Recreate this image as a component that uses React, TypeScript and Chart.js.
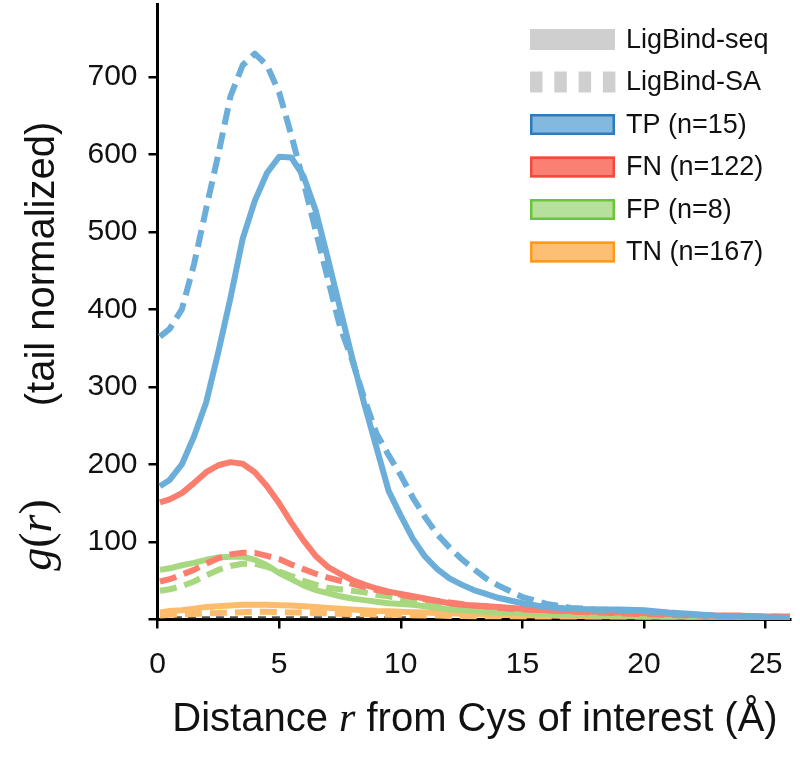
import React, { useEffect, useRef } from 'react';
import { Chart, registerables } from 'chart.js';

Chart.register(...registerables);

// Radial distance from the Cys of interest (Å)
const distance = [
  0.1, 0.5, 1, 1.5, 2, 2.5, 3, 3.5, 4, 4.5, 5, 5.5, 6, 6.5, 7, 7.5, 8, 8.5, 9, 9.5,
  10, 10.5, 11, 11.5, 12, 12.5, 13, 13.5, 14, 15, 16, 17, 18, 19, 20, 21, 22, 23, 24, 25, 26,
];

// g(r), tail normalized — LigBind-seq (solid lines)
const tpSeq = [172, 180, 200, 236, 280, 345, 415, 491, 540, 576, 597, 596, 572, 528, 466, 402, 338, 278, 222, 166, 134, 104, 81, 65, 53, 45, 38, 33, 28, 21, 16, 14, 13, 13, 12, 9, 7, 5, 4, 3, 2];
const fnSeq = [151, 155, 163, 176, 190, 199, 203, 201, 190, 172, 150, 125, 102, 82, 68, 59, 51, 45, 40, 36, 33, 30, 27, 24, 21, 19, 18, 17, 16, 14, 12, 11, 10, 9, 8, 7, 6, 5, 5, 4, 4];
const fpSeq = [64, 66, 70, 73, 77, 80, 81, 81, 77, 70, 60, 52, 44, 38, 34, 30, 27, 25, 23, 21, 20, 19, 17, 15, 13, 12, 11, 10, 9, 8, 7, 6, 5, 5, 4, 4, 3, 3, 3, 2, 2];
const tnSeq = [9, 11, 12, 14, 16, 17, 18, 19, 19, 19, 18.5, 18, 17, 16, 15, 14, 13, 12, 11, 10.5, 10, 9.5, 9, 8.5, 8, 7.5, 7, 6.5, 6, 5.5, 5, 4.5, 4, 4, 3.5, 3, 3, 2.5, 2, 2, 2];

// g(r), tail normalized — LigBind-SA (dashed lines)
const tpSA = [365, 375, 400, 458, 530, 600, 675, 715, 730, 715, 680, 625, 565, 502, 440, 378, 335, 285, 240, 212, 186, 157, 132, 110, 93, 78, 65, 53, 44, 29, 20, 15, 13, 12, 11, 8, 6, 4, 3, 2, 2];
const fnSA = [49, 52, 58, 64, 72, 79, 84, 86, 86, 82, 78, 71, 65, 59, 54, 50, 46, 42, 38, 35, 32, 29, 26, 24, 22, 20, 18, 17, 15, 13, 12, 10, 9, 8, 7, 6, 5, 5, 4, 4, 3];
const fpSA = [37, 39, 43, 49, 57, 64, 69, 72, 72, 68, 62, 56, 50, 45, 41, 39, 37, 35, 32, 30, 27, 25, 22, 20, 18, 16, 15, 13, 12, 10, 9, 8, 7, 6, 5, 5, 4, 4, 3, 3, 2];
const tnSA = [5, 6, 6.5, 7, 8, 8.5, 9, 9.5, 10, 10, 9.5, 9, 9, 8.5, 8, 7.5, 7, 7, 6.5, 6, 6, 5.5, 5, 5, 4.5, 4.5, 4, 4, 4, 3.5, 3, 3, 3, 2.5, 2.5, 2, 2, 2, 2, 1.5, 1.5];

// near-zero reference trace along the baseline
const baseTrace = [3, 3, 3, 3, 3, 3, 3, 3, 3, 3, 3, 3, 3, 3, 3, 3, 3, 3, 3, 3, 3, 3, 3, null, null, null, null, null, null, null, null, null, null, null, null, null, null, null, null, null, null];

// tick values
const xTicks = [0, 5, 10, 15, 20, 25];
const yTicks = [0, 100, 200, 300, 400, 500, 600, 700];

const classLabels = ['TP (n=15)', 'FN (n=122)', 'FP (n=8)', 'TN (n=167)'];
const methodLabels = ['LigBind-seq', 'LigBind-SA'];
const lineColors = ['#6aaed9', '#fa7d6d', '#a7d87f', '#fdbb6c'];
const patchFills = ['#83b9df', '#fa8073', '#b6e09b', '#fdbf74'];
const patchEdges = ['#2a7bbf', '#f24a3d', '#6cc43b', '#fd9a1c'];

const SANS = '"Liberation Sans", Arial, Helvetica, sans-serif';
const SERIF = '"Liberation Serif", "DejaVu Serif", serif';

const toPoints = (ys: (number | null)[]) => distance.map((x, i) => ({ x, y: ys[i] }));

// Axis titles with italic math variables
const titlePlugin = {
  id: 'gofrTitles',
  afterDraw(chart: any) {
    const ctx: CanvasRenderingContext2D = chart.ctx;
    ctx.save();
    ctx.fillStyle = '#111';
    ctx.textBaseline = 'alphabetic';

    // x title
    const xParts: [string, string][] = [
      ['Distance ', `40px ${SANS}`],
      ['r', `italic 42px ${SERIF}`],
      [' from Cys of interest (Å)', `40px ${SANS}`],
    ];
    let total = 0;
    xParts.forEach(([t, f]) => { ctx.font = f; total += ctx.measureText(t).width; });
    let x = 475 - total / 2;
    ctx.textAlign = 'left';
    xParts.forEach(([t, f]) => { ctx.font = f; ctx.fillText(t, x, 731); x += ctx.measureText(t).width; });

    // y title (rotated)
    ctx.save();
    ctx.translate(54, 264);
    ctx.rotate(-Math.PI / 2);
    ctx.font = `40px ${SANS}`;
    ctx.textAlign = 'center';
    ctx.fillText('(tail normalized)', 0, 0);
    ctx.restore();

    const gParts: [string, string][] = [
      ['g', `italic 46px ${SERIF}`],
      ['(', `46px ${SERIF}`],
      ['r', `italic 46px ${SERIF}`],
      [')', `46px ${SERIF}`],
    ];
    let gw = 0;
    gParts.forEach(([t, f]) => { ctx.font = f; gw += ctx.measureText(t).width; });
    ctx.save();
    ctx.translate(51, 535);
    ctx.rotate(-Math.PI / 2);
    ctx.textAlign = 'left';
    let gx = -gw / 2;
    gParts.forEach(([t, f]) => { ctx.font = f; ctx.fillText(t, gx, 0); gx += ctx.measureText(t).width; });
    ctx.restore();

    ctx.restore();
  },
};

// Legend: line-style patches for the two methods, colour patches for the classes
const legendPlugin = {
  id: 'gofrLegend',
  afterDraw(chart: any) {
    const ctx: CanvasRenderingContext2D = chart.ctx;
    const labels = [...methodLabels, ...classLabels];
    const px = 530, pw = 85, ph = 21;
    ctx.save();
    labels.forEach((label, i) => {
      const cy = 39.5 + i * 42.5;
      const top = cy - ph / 2;
      if (i === 0) {
        ctx.fillStyle = '#cfcfcf';
        ctx.fillRect(px, top, pw, ph);
      } else if (i === 1) {
        ctx.fillStyle = '#cfcfcf';
        for (let k = 0; k < 4; k++) ctx.fillRect(px + k * 24.3, top, 12.5, ph);
      } else {
        const c = i - 2;
        ctx.fillStyle = patchFills[c];
        ctx.fillRect(px, top, pw, ph);
        ctx.strokeStyle = patchEdges[c];
        ctx.lineWidth = 2.5;
        ctx.strokeRect(px + 1.25, top + 1.25, pw - 2.5, ph - 2.5);
      }
      ctx.fillStyle = '#111';
      ctx.font = `27px ${SANS}`;
      ctx.textAlign = 'left';
      ctx.textBaseline = 'middle';
      ctx.fillText(label, 626, cy + 1);
    });
    ctx.restore();
  },
};

const noScalePadding = (s: any) => {
  s.paddingTop = 0;
  s.paddingBottom = 0;
  s.paddingLeft = 0;
  s.paddingRight = 0;
};

export default function App() {
  const canvasRef = useRef<HTMLCanvasElement | null>(null);

  useEffect(() => {
    if (!canvasRef.current) return;
    const seq = [tpSeq, fnSeq, fpSeq, tnSeq];
    const sa = [tpSA, fnSA, fpSA, tnSA];
    const datasets: any[] = [];
    classLabels.forEach((label, c) => {
      datasets.push({
        label: `${label} ${methodLabels[0]}`,
        data: toPoints(seq[c]),
        borderColor: lineColors[c],
        borderWidth: 6,
        order: c * 2 + 1,
      });
      datasets.push({
        label: `${label} ${methodLabels[1]}`,
        data: toPoints(sa[c]),
        borderColor: lineColors[c],
        borderWidth: 6,
        borderDash: [17, 8],
        order: c * 2,
      });
    });
    datasets.push({
      label: 'baseline',
      data: toPoints(baseTrace),
      borderColor: '#555',
      borderWidth: 2,
      borderDash: [8, 6],
      spanGaps: false,
      order: 20,
    });

    const chart = new Chart(canvasRef.current, {
      type: 'line',
      data: { datasets },
      options: {
        animation: false,
        responsive: true,
        maintainAspectRatio: false,
        layout: { padding: { top: 4, right: 10, left: 0, bottom: 0 } },
        elements: {
          point: { radius: 0, hoverRadius: 0 },
          line: { tension: 0, borderCapStyle: 'butt', borderJoinStyle: 'round', fill: false },
        },
        plugins: { legend: { display: false }, tooltip: { enabled: false }, title: { display: false } },
        scales: {
          x: {
            type: 'linear',
            min: 0,
            max: 26,
            afterFit: (s: any) => { s.height = 150.5; noScalePadding(s); },
            afterBuildTicks: (s: any) => { s.ticks = xTicks.map((value) => ({ value })); },
            border: { display: true, color: '#000', width: 3 },
            grid: { drawOnChartArea: false, drawTicks: true, tickLength: 9, color: '#000', lineWidth: 2.5 },
            ticks: {
              maxRotation: 0,
              autoSkip: false,
              padding: 18,
              color: '#111',
              font: { family: SANS, size: 30 },
            },
          },
          y: {
            type: 'linear',
            min: 0,
            max: 794,
            afterFit: (s: any) => { s.width = 157.5; noScalePadding(s); },
            afterBuildTicks: (s: any) => { s.ticks = yTicks.map((value) => ({ value })); },
            border: { display: true, color: '#000', width: 3 },
            grid: { drawOnChartArea: false, drawTicks: true, tickLength: 9, color: '#000', lineWidth: 2.5 },
            ticks: {
              autoSkip: false,
              padding: 11,
              color: '#111',
              font: { family: SANS, size: 30 },
              callback: (v: any) => (v === 0 ? '' : String(v)),
            },
          },
        },
      },
      plugins: [titlePlugin, legendPlugin],
    } as any);

    return () => chart.destroy();
  }, []);

  return (
    <div style={{ position: 'fixed', left: 0, top: 0, width: 800, height: 770, background: '#fff' }}>
      <canvas ref={canvasRef} />
    </div>
  );
}
